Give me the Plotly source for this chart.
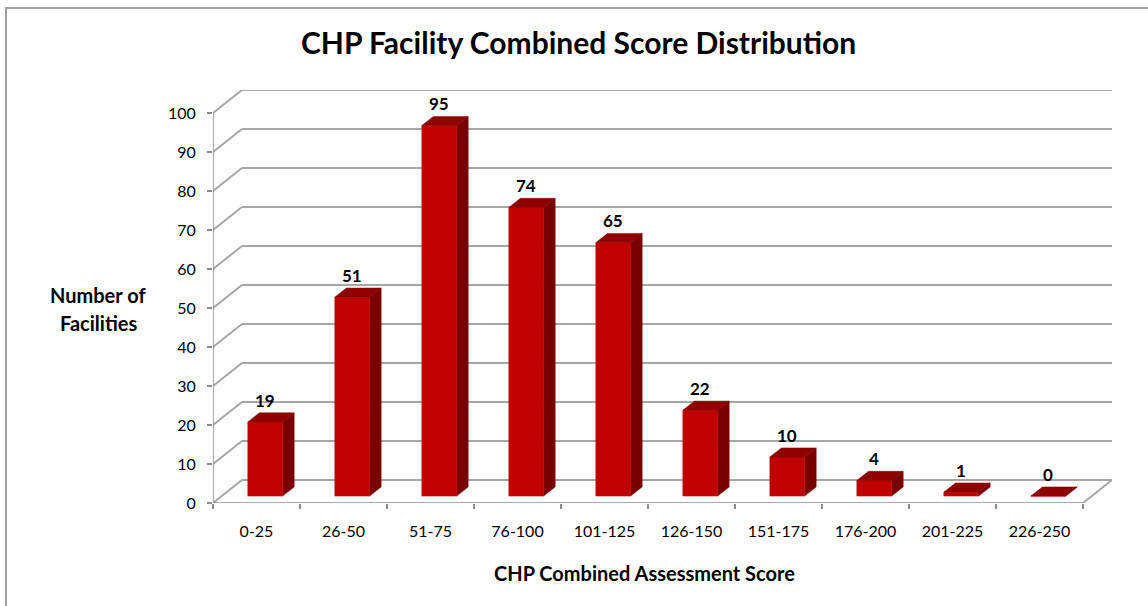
import plotly.graph_objects as go

# ---- data ----
categories = ["0-25", "26-50", "51-75", "76-100", "101-125",
              "126-150", "151-175", "176-200", "201-225", "226-250"]
facilities = [19, 51, 95, 74, 65, 22, 10, 4, 1, 0]
y_ticks = list(range(0, 101, 10))

title_text = "CHP Facility Combined Score Distribution"
x_title = "CHP Combined Assessment Score"
y_title_lines = ["Number of", "Facilities"]

# ---- pseudo-3D geometry (data units) ----
DX = 0.333      # depth offset along x (category units)
DY = 5.9        # depth offset along y (value units)
Z0, Z1 = 0.3, 0.7   # bar depth extent
HW = 0.2            # bar half width
N = len(categories)
YMAX = 100


def P(x, y, z):
    return x + z * DX, y + z * DY


fig = go.Figure()

grid_col = "#a6a6a6"
axis_col = "#8c8c8c"

# back-wall gridlines + left side-wall diagonals
gx, gy = [], []
for t in y_ticks:
    for (a, b) in [(P(0, t, 0), P(0, t, 1)), (P(0, t, 1), P(N, t, 1))]:
        gx += [a[0], b[0], None]
        gy += [a[1], b[1], None]
# right floor diagonal
a, b = P(N, 0, 0), P(N, 0, 1)
gx += [a[0], b[0], None]
gy += [a[1], b[1], None]
fig.add_trace(go.Scatter(x=gx, y=gy, mode="lines",
                         line=dict(color=grid_col, width=2),
                         hoverinfo="skip", showlegend=False))

# front axis lines
ax_x = [0, 0, None, 0, N]
ax_y = [YMAX, 0, None, 0, 0]
fig.add_trace(go.Scatter(x=ax_x, y=ax_y, mode="lines",
                         line=dict(color=axis_col, width=1.5),
                         hoverinfo="skip", showlegend=False))

# bar faces
fx, fy, sx, sy, tx, ty = [], [], [], [], [], []
for i, v in enumerate(facilities):
    c = i + 0.5
    l, r = c - HW, c + HW
    pts = [P(l, 0, Z0), P(r, 0, Z0), P(r, v, Z0), P(l, v, Z0), P(l, 0, Z0)]
    fx += [p[0] for p in pts] + [None]
    fy += [p[1] for p in pts] + [None]
    pts = [P(r, 0, Z0), P(r, 0, Z1), P(r, v, Z1), P(r, v, Z0), P(r, 0, Z0)]
    sx += [p[0] for p in pts] + [None]
    sy += [p[1] for p in pts] + [None]
    pts = [P(l, v, Z0), P(r, v, Z0), P(r, v, Z1), P(l, v, Z1), P(l, v, Z0)]
    tx += [p[0] for p in pts] + [None]
    ty += [p[1] for p in pts] + [None]

for xs, ys, col in [(sx, sy, "#780000"), (fx, fy, "#c00000"), (tx, ty, "#8e0000")]:
    fig.add_trace(go.Scatter(x=xs, y=ys, mode="lines", fill="toself",
                             fillcolor=col, line=dict(color=col, width=0.5),
                             hoverinfo="skip", showlegend=False))

# value labels
for i, v in enumerate(facilities):
    x_lab, _ = P(i + 0.5, v, Z0)
    _, y_lab = P(i + 0.5, v, Z1)
    fig.add_annotation(x=x_lab, y=y_lab, text=f"<b>{v}</b>", showarrow=False,
                       yanchor="bottom", xanchor="center", yshift=0,
                       font=dict(family="Lato", size=17, color="#000000"))

# axis titles
fig.add_annotation(xref="paper", yref="paper", x=0.4805, y=-0.1695,
                   text=f"<b>{x_title}</b>", showarrow=False,
                   xanchor="center", yanchor="middle",
                   font=dict(family="Lato", size=20, color="#000000"))
for k, line in enumerate(y_title_lines):
    fig.add_annotation(xref="paper", yref="paper",
                       x=(98 - 213) / 899, y=(503 - (295 + 28 * k)) / 413,
                       text=f"<b>{line}</b>", showarrow=False,
                       xanchor="center", yanchor="middle",
                       font=dict(family="Lato", size=20, color="#000000"))

# outer chart border
fig.add_shape(type="rect", xref="paper", yref="paper",
              x0=(6 - 213) / 899, x1=(1160 - 213) / 899,
              y0=(503 - 620) / 413, y1=(503 - 8) / 413,
              line=dict(color="#a0a0a0", width=2), fillcolor="rgba(0,0,0,0)",
              layer="below")

fig.update_layout(
    width=1148, height=606,
    margin=dict(l=213, r=36, t=90, b=103),
    paper_bgcolor="white", plot_bgcolor="white",
    title=dict(text=f"<b>{title_text}</b>", x=0.504, xref="container",
               y=1 - 43 / 606, yref="container", yanchor="middle", xanchor="center",
               font=dict(family="Lato", size=30, color="#000000")),
    xaxis=dict(range=[0, N + DX], showgrid=False, zeroline=False, showline=False,
               tickmode="array", tickvals=[i + 0.5 for i in range(N)],
               ticktext=categories, ticks="",
               tickfont=dict(family="Lato", size=16, color="#000000"),
               ticklabelstandoff=17,
               minor=dict(tickmode="array", tickvals=list(range(N + 1)),
                          ticks="outside", ticklen=5, tickwidth=1.5,
                          tickcolor=axis_col, showgrid=False),
               fixedrange=True),
    yaxis=dict(range=[0, YMAX + DY], showgrid=False, zeroline=False, showline=False,
               tickmode="array", tickvals=y_ticks, ticks="outside", ticklen=5,
               tickwidth=1.5, tickcolor=axis_col,
               tickfont=dict(family="Lato", size=16, color="#000000"),
               ticklabelstandoff=8, fixedrange=True),
    hovermode=False,
)

fig.write_html("out.html",
               config={"displayModeBar": False, "staticPlot": True},
               post_script="document.body.style.margin='0px';document.body.style.overflow='hidden';")
